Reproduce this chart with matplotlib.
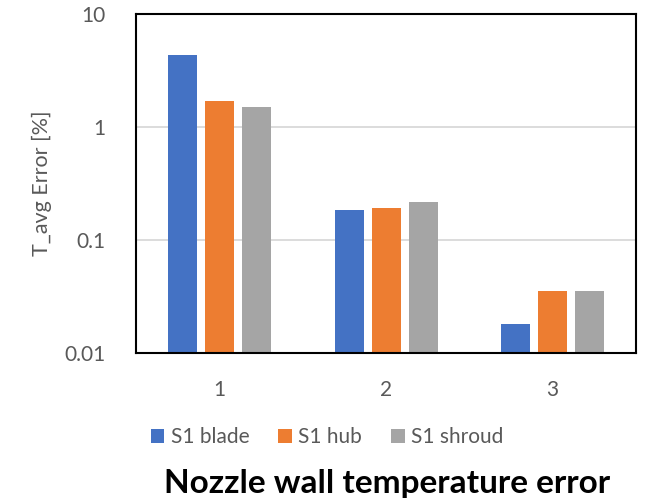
import matplotlib
matplotlib.use("Agg")
import matplotlib.pyplot as plt
import numpy as np
from matplotlib.patches import Patch

categories = ["1", "2", "3"]
series_names = ["S1 blade", "S1 hub", "S1 shroud"]
s1_blade = [4.34, 0.183, 0.0168]
s1_hub = [1.69, 0.190, 0.0340]
s1_shroud = [1.50, 0.216, 0.0344]
colors = ["#4472C4", "#ED7D31", "#A5A5A5"]

plt.rcParams['font.family'] = ['Lato', 'DejaVu Sans']

fig = plt.figure(figsize=(6.49, 5.04), dpi=100)
ax = fig.add_axes([136/649, 1-352.7/504, 500/649, (352.7-14)/504])

x = np.arange(len(categories))
width = 0.174
step = 0.222
for i, (vals, c) in enumerate(zip([s1_blade, s1_hub, s1_shroud], colors)):
    ax.bar(x + (i-1)*step, vals, width=width, color=c, zorder=3, bottom=0.001)

ax.set_yscale('log')
ax.set_ylim(0.01, 10)
ax.set_xlim(-0.5, 2.5)
ax.set_yticks([0.01, 0.1, 1, 10])
ax.set_yticklabels(["0.01", "0.1", "1", "10"])
ax.yaxis.set_minor_locator(matplotlib.ticker.NullLocator())
ax.set_xticks(x)
ax.set_xticklabels(categories)
ax.tick_params(axis='both', length=0, labelsize=15, colors='#595959')
ax.tick_params(axis='y', pad=22)
ax.tick_params(axis='x', pad=20)
ax.grid(axis='y', color='#D9D9D9', linewidth=1.3, zorder=0)
for s in ax.spines.values():
    s.set_color('black')
    s.set_linewidth(1.5)
    s.set_zorder(4)

ax.set_ylabel("T_avg Error [%]", fontsize=15.5, color='#595959', labelpad=9)

handles = [Patch(facecolor=c, edgecolor='none') for c in colors]
fig.legend(handles, series_names, loc='center', bbox_to_anchor=(327/649, 1-437/504),
           ncol=3, frameon=False, fontsize=15, handlelength=0.65, handleheight=0.65,
           handletextpad=0.3, columnspacing=1.4, labelcolor='#595959')

fig.text(387/649, 1-483/504, "Nozzle wall temperature error", ha='center', va='center',
         fontsize=24, fontweight='bold', color='black')

fig.savefig("out.png", dpi=100)
